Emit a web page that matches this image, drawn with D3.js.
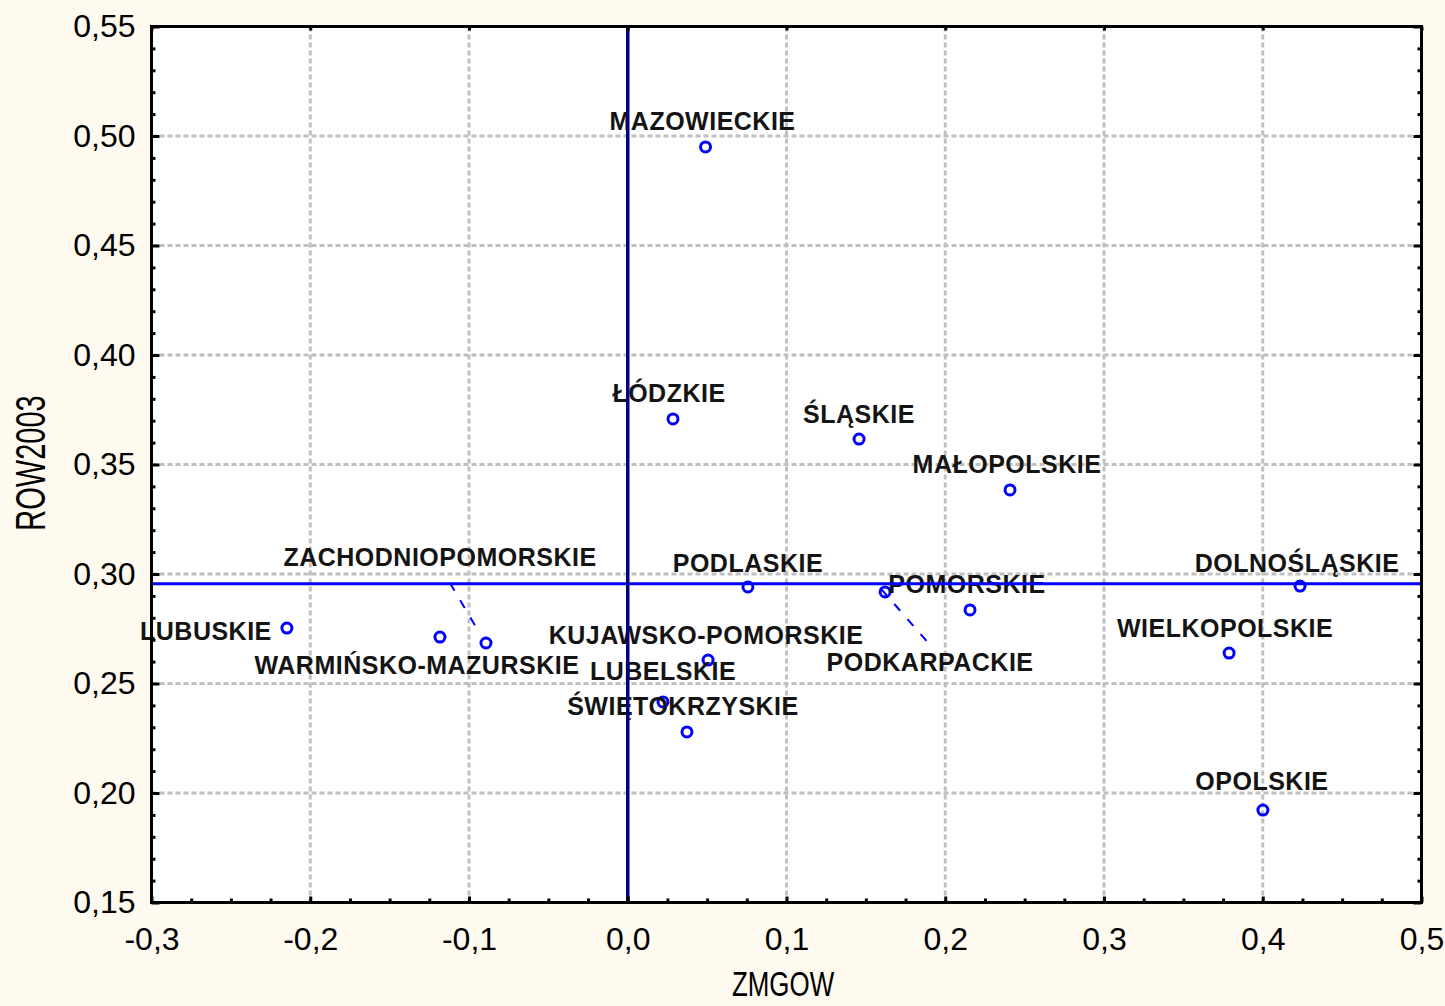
<!DOCTYPE html>
<html><head><meta charset="utf-8">
<script src="https://cdn.jsdelivr.net/npm/d3@7"></script>
<style>html,body{margin:0;padding:0;background:#fffaef;overflow:hidden}</style>
</head><body><svg id="c" width="1445" height="1006"></svg>
<script>
// ---- data ----
const regions = ["MAZOWIECKIE","ŁÓDZKIE","ŚLĄSKIE","MAŁOPOLSKIE","DOLNOŚLĄSKIE","WIELKOPOLSKIE","OPOLSKIE","PODLASKIE","POMORSKIE","PODKARPACKIE","KUJAWSKO-POMORSKIE","LUBELSKIE","ŚWIĘTOKRZYSKIE","ZACHODNIOPOMORSKIE","LUBUSKIE","WARMIŃSKO-MAZURSKIE"];
const zmgow   = [0.049, 0.0285, 0.1457, 0.2408, 0.4235, 0.3788, 0.4001, 0.0757, 0.2156, 0.1621, 0.0506, 0.0222, 0.0373, -0.0893, -0.2147, -0.1183];
const row2003 = [0.495, 0.3708, 0.3616, 0.3384, 0.2945, 0.2639, 0.1922, 0.2941, 0.2836, 0.2918, 0.2607, 0.2416, 0.2279, 0.2685, 0.2753, 0.2712];
const xTicks = [-0.3,-0.2,-0.1,0.0,0.1,0.2,0.3,0.4,0.5];
const xTickLabels = ["-0,3","-0,2","-0,1","0,0","0,1","0,2","0,3","0,4","0,5"];
const yTicks = [0.15,0.20,0.25,0.30,0.35,0.40,0.45,0.50,0.55];
const yTickLabels = ["0,15","0,20","0,25","0,30","0,35","0,40","0,45","0,50","0,55"];
const xTitle = "ZMGOW";
const yTitle = "ROW2003";
const refX = 0.0;      // vertical reference line
const refY = 0.2955;   // horizontal reference line (mean)

// ---- layout (label offsets in px from the marker) ----
const labelLayout = {
  "MAZOWIECKIE":{dx:-3,dy:-17}, "ŁÓDZKIE":{dx:-4,dy:-17}, "ŚLĄSKIE":{dx:0,dy:-16},
  "MAŁOPOLSKIE":{dx:-3,dy:-17}, "DOLNOŚLĄSKIE":{dx:-3,dy:-14}, "WIELKOPOLSKIE":{dx:-4,dy:-16},
  "OPOLSKIE":{dx:-1,dy:-20}, "PODLASKIE":{dx:0,dy:-15}, "POMORSKIE":{dx:-3,dy:-17},
  "PODKARPACKIE":{dx:45,dy:79, lead:[[-4,-3],[45,53]]},
  "KUJAWSKO-POMORSKIE":{dx:-2,dy:-16}, "LUBELSKIE":{dx:0,dy:-22}, "ŚWIĘTOKRZYSKIE":{dx:-4,dy:-17},
  "ZACHODNIOPOMORSKIE":{dx:-46,dy:-77, lead:[[-36,-60],[-10,-16]]},
  "LUBUSKIE":{dx:-81,dy:12}, "WARMIŃSKO-MAZURSKIE":{dx:-23,dy:37}
};

const W = 1445, H = 1006;
const L = 151.5, R = 1421.5, T = 26.5, B = 902.5;
const FONT = "'Liberation Sans', Arial, sans-serif";

const svg = d3.select("#c");
svg.append("rect").attr("width",W).attr("height",H).attr("fill","#fffaef");
svg.append("rect").attr("x",L).attr("y",T).attr("width",R-L).attr("height",B-T).attr("fill","#ffffff");

const x = d3.scaleLinear().domain([-0.3,0.5]).range([L,R]);
const y = d3.scaleLinear().domain([0.15,0.55]).range([B,T]);

// grid
const grid = svg.append("g").attr("stroke","#c0c0c0").attr("stroke-width",3).attr("stroke-dasharray","5,3");
grid.selectAll(".gx").data(xTicks.slice(1,-1).filter(d=>d!==0)).join("line")
  .attr("x1",d=>x(d)).attr("x2",d=>x(d)).attr("y1",T).attr("y2",B);
grid.selectAll(".gy").data(yTicks.slice(1,-1)).join("line")
  .attr("x1",L).attr("x2",R).attr("y1",d=>y(d)).attr("y2",d=>y(d));

// points
const pts = regions.map((r,i)=>({name:r, x:zmgow[i], y:row2003[i]}));
svg.append("g").selectAll("circle").data(pts).join("circle")
  .attr("cx",d=>x(d.x)).attr("cy",d=>y(d.y)).attr("r",5)
  .attr("fill","none").attr("stroke","#0000ff").attr("stroke-width",3);

// leaders
svg.append("g").selectAll("line").data(pts.filter(d=>labelLayout[d.name].lead)).join("line")
  .attr("x1",d=>x(d.x)+labelLayout[d.name].lead[0][0]).attr("y1",d=>y(d.y)+labelLayout[d.name].lead[0][1])
  .attr("x2",d=>x(d.x)+labelLayout[d.name].lead[1][0]).attr("y2",d=>y(d.y)+labelLayout[d.name].lead[1][1])
  .attr("stroke","#0000ff").attr("stroke-width",2).attr("stroke-dasharray","9,11");

// labels
svg.append("g").selectAll("text").data(pts).join("text")
  .attr("x",d=>x(d.x)+labelLayout[d.name].dx).attr("y",d=>y(d.y)+labelLayout[d.name].dy)
  .attr("text-anchor","middle").attr("font-family",FONT).attr("font-size",25).attr("font-weight","bold")
  .attr("letter-spacing",0.5).attr("fill","#141414").text(d=>d.name);

// reference lines
svg.append("line").attr("x1",L).attr("x2",R).attr("y1",y(refY)).attr("y2",y(refY))
  .attr("stroke","#0000ff").attr("stroke-width",3);
svg.append("line").attr("x1",x(refX)).attr("x2",x(refX)).attr("y1",T).attr("y2",B)
  .attr("stroke","#000080").attr("stroke-width",3.5);

// axes
const xMinor = d3.range(-12,21).map(v=>v*0.025).filter(v=>Math.abs(v*10-Math.round(v*10))>1e-6);
const yMinor = d3.range(15,56).map(v=>v/100).filter(v=>Math.round(v*100)%5!==0);

function styleAxis(g){ g.select(".domain").remove(); g.selectAll("line").attr("stroke","#000").attr("stroke-width",3);
  g.selectAll("text").attr("font-family",FONT).attr("font-size",32).attr("fill","#000"); }

svg.append("g").attr("transform",`translate(${L},0)`)
  .call(d3.axisLeft(y).tickValues(yTicks).tickSize(-8).tickPadding(16).tickFormat((d,i)=>yTickLabels[i])).call(styleAxis);
svg.append("g").attr("transform",`translate(${L},0)`)
  .call(d3.axisLeft(y).tickValues(yMinor).tickSize(-4).tickFormat("")).call(styleAxis);
svg.append("g").attr("transform",`translate(${R},0)`)
  .call(d3.axisRight(y).tickValues(yTicks).tickSize(-8).tickFormat("")).call(styleAxis);
svg.append("g").attr("transform",`translate(${R},0)`)
  .call(d3.axisRight(y).tickValues(yMinor).tickSize(-4).tickFormat("")).call(styleAxis);
svg.append("g").attr("transform",`translate(0,${B})`)
  .call(d3.axisBottom(x).tickValues(xTicks).tickSize(-6).tickPadding(25).tickFormat((d,i)=>xTickLabels[i])).call(styleAxis);
svg.append("g").attr("transform",`translate(0,${B})`)
  .call(d3.axisBottom(x).tickValues(xMinor).tickSize(-4).tickFormat("")).call(styleAxis);
svg.append("g").attr("transform",`translate(0,${T})`)
  .call(d3.axisTop(x).tickValues(xTicks).tickSize(-4).tickFormat("")).call(styleAxis);

// frame
svg.append("rect").attr("x",L).attr("y",T).attr("width",R-L).attr("height",B-T)
  .attr("fill","none").attr("stroke","#000").attr("stroke-width",3);

// titles
svg.append("text").attr("transform","translate(45,463) rotate(-90) scale(0.69,1)")
  .attr("text-anchor","middle").attr("font-family",FONT).attr("font-size",42).attr("fill","#000").text(yTitle);
svg.append("text").attr("transform","translate(783,996) scale(0.72,1)")
  .attr("text-anchor","middle").attr("font-family",FONT).attr("font-size",36).attr("fill","#000").text(xTitle);
</script></body></html>
